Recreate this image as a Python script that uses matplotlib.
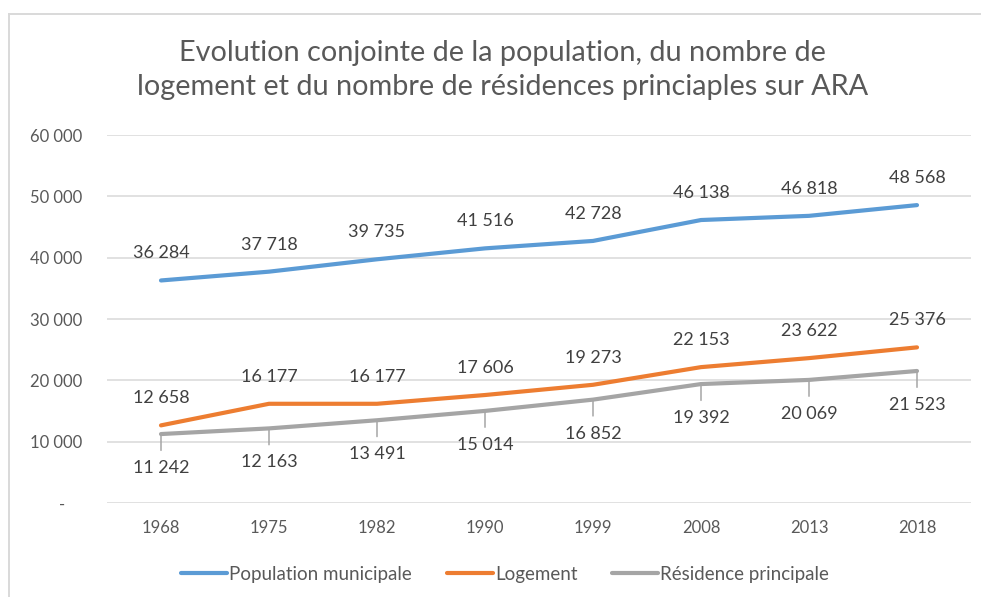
import matplotlib
matplotlib.use("Agg")
import matplotlib.pyplot as plt
from matplotlib.lines import Line2D
from matplotlib.ticker import FuncFormatter

# --- Data ---
years = ["1968", "1975", "1982", "1990", "1999", "2008", "2013", "2018"]
population = [36284, 37718, 39735, 41516, 42728, 46138, 46818, 48568]
logement = [12658, 16177, 16177, 17606, 19273, 22153, 23622, 25376]
residences = [11242, 12163, 13491, 15014, 16852, 19392, 20069, 21523]

plt.rcParams['font.family'] = ['Lato', 'DejaVu Sans']

BLUE = '#5B9BD5'
ORANGE = '#ED7D31'
GRAY = '#A5A5A5'
TXT = '#595959'
LBL = '#404040'


def fmt(v):
    return f"{int(v):,}".replace(",", "\u202f")


fig = plt.figure(figsize=(9.81, 5.97), dpi=100)
fig.patch.set_facecolor('white')
ax = fig.add_axes([107 / 981, 94 / 597, 864 / 981, 368 / 597])

x = list(range(len(years)))
lw = 3.0
ax.plot(x, population, color=BLUE, lw=lw, solid_joinstyle='round', solid_capstyle='round',
        label='Population municipale', zorder=3)
ax.plot(x, logement, color=ORANGE, lw=lw, solid_joinstyle='round', solid_capstyle='round',
        label='Logement', zorder=3)
ax.plot(x, residences, color=GRAY, lw=lw, solid_joinstyle='round', solid_capstyle='round',
        label='Résidence principale', zorder=3)

# data labels
for xi, v in zip(x, population):
    ax.annotate(fmt(v), (xi, v), xytext=(0, 19.5), textcoords='offset points',
                ha='center', va='center', fontsize=13, color=LBL)
for xi, v in zip(x, logement):
    ax.annotate(fmt(v), (xi, v), xytext=(0, 19.5), textcoords='offset points',
                ha='center', va='center', fontsize=13, color=LBL)
for xi, v in zip(x, residences):
    ax.annotate(fmt(v), (xi, v), xytext=(0, -24.5), textcoords='offset points',
                ha='center', va='center', fontsize=13, color=LBL,
                arrowprops=dict(arrowstyle='-', color=GRAY, lw=1.1,
                                relpos=(0.5, 1.0), shrinkA=5, shrinkB=0))

ax.set_xlim(-0.5, len(years) - 0.5)
ax.set_ylim(0, 60000)
ax.set_yticks(range(0, 60001, 10000))
ax.yaxis.set_major_formatter(FuncFormatter(lambda v, p: "-\u2002\u2002" if v == 0 else fmt(v)))
ax.set_xticks(x)
ax.set_xticklabels(years)
ax.tick_params(axis='both', length=0, labelsize=12, labelcolor=TXT)
ax.tick_params(axis='y', pad=18)
ax.tick_params(axis='x', pad=12)
ax.grid(axis='y', color='#D9D9D9', lw=1.1)
ax.set_axisbelow(True)
for s in ax.spines.values():
    s.set_visible(False)

fig.text(0.512, 0.882, "Evolution conjointe de la population, du nombre de\n"
         "logement et du nombre de résidences princiaples sur ARA",
         ha='center', va='center', fontsize=20.8, color=TXT, linespacing=1.38)

fig.legend(loc='center', bbox_to_anchor=(0.515, 0.0385), ncol=3, frameon=False,
           fontsize=13.5, labelcolor=TXT, handlelength=2.45, handletextpad=0.1,
           columnspacing=1.87)

# chart border (top and left edges visible)
fig.add_artist(Line2D([9 / 981, 1], [1 - 14 / 597, 1 - 14 / 597], color='#D9D9D9', lw=1.4,
                      transform=fig.transFigure))
fig.add_artist(Line2D([9 / 981, 9 / 981], [0, 1 - 14 / 597], color='#D9D9D9', lw=1.4,
                      transform=fig.transFigure))

fig.savefig('out.png', dpi=100, facecolor='white')
